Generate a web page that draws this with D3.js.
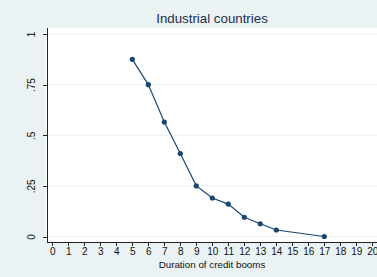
<!DOCTYPE html>
<html>
<head>
<meta charset="utf-8">
<script src="https://cdn.jsdelivr.net/npm/d3@7"></script>
<style>
body { margin: 0; background: #eaf2f3; }
text { font-family: "Liberation Sans", Arial, sans-serif; fill: #111; }
</style>
</head>
<body>
<div id="chart"></div>
<script>
// duration of credit booms vs share still ongoing
var durations = [5, 6, 7, 8, 9, 10, 11, 12, 13, 14, 17];
var shares = [0.875, 0.75, 0.565, 0.41, 0.25, 0.19, 0.16, 0.095, 0.063, 0.032, 0];
var xTicks = d3.range(0, 21);
var yTicks = [0, 0.25, 0.5, 0.75, 1];
var yTickLabels = ["0", ".25", ".5", ".75", "1"];
var title = "Industrial countries";
var xTitle = "Duration of credit booms";

var width = 377, height = 277;
var plot = {left: 46, right: 377, top: 28, bottom: 242};

var svg = d3.select("#chart").append("svg")
	.attr("width", width).attr("height", height);

svg.append("rect").attr("width", width).attr("height", height).attr("fill", "#eaf2f3");

// white plot region
svg.append("rect").attr("x", plot.left).attr("y", plot.top)
	.attr("width", plot.right - plot.left).attr("height", plot.bottom - plot.top)
	.attr("fill", "#fff");

var x = d3.scaleLinear().domain([0, 20]).range([52.3, 372.3]);
var y = d3.scaleLinear().domain([0, 1]).range([236.5, 34]);

// gridlines
svg.append("g").selectAll("line").data(yTicks).enter().append("line")
	.attr("x1", plot.left + 1).attr("x2", plot.right)
	.attr("y1", function(d) { return y(d); }).attr("y2", function(d) { return y(d); })
	.attr("stroke", "#eaf2f3").attr("stroke-width", 1);

// y axis
var yAxis = d3.axisLeft(y).tickValues(yTicks)
	.tickFormat(function(d, i) { return yTickLabels[i]; })
	.tickSize(4).tickSizeOuter(0);
var gy = svg.append("g").attr("transform", "translate(" + 47 + ",0)").call(yAxis);
gy.select(".domain").attr("stroke", "#222").attr("d", "M0.5," + plot.top + "V" + plot.bottom);
gy.selectAll(".tick line").attr("stroke", "#222");
gy.selectAll(".tick text")
	.attr("transform", function(d) { return "rotate(-90," + (-12) + ",0)"; })
	.attr("x", -12).attr("y", 0).attr("dy", "0")
	.attr("text-anchor", "middle")
	.style("font-size", "10px").style("fill", "#111");

// x axis
var xAxis = d3.axisBottom(x).tickValues(xTicks).tickFormat(d3.format("d"))
	.tickSize(4).tickSizeOuter(0);
var gx = svg.append("g").attr("transform", "translate(0," + plot.bottom + ")").call(xAxis);
gx.select(".domain").attr("stroke", "#222").attr("d", "M" + 47 + ",0.5H" + plot.right);
gx.selectAll(".tick line").attr("stroke", "#222");
gx.selectAll(".tick text").attr("y", 6).style("font-size", "10px").style("fill", "#111");
gx.selectAll("path, line").attr("shape-rendering", "crispEdges");
gy.selectAll("path, line").attr("shape-rendering", "crispEdges");

// axis title
svg.append("text").attr("x", 212).attr("y", 268).attr("text-anchor", "middle")
	.style("font-size", "9.8px").style("fill", "#111").text(xTitle);

// chart title
svg.append("text").attr("x", 212).attr("y", 23).attr("text-anchor", "middle")
	.style("font-size", "13.3px").style("fill", "#1e2d4f").text(title);

// series line
var pts = durations.map(function(d, i) { return [d, shares[i]]; });
var line = d3.line().x(function(d) { return x(d[0]); }).y(function(d) { return y(d[1]); });
svg.append("path").datum(pts).attr("d", line)
	.attr("fill", "none").attr("stroke", "#1a476f").attr("stroke-width", 1.2);

svg.append("g").selectAll("circle").data(pts).enter().append("circle")
	.attr("cx", function(d) { return x(d[0]); })
	.attr("cy", function(d) { return y(d[1]); })
	.attr("r", 2.6).attr("fill", "#1a476f");
</script>
</body>
</html>
